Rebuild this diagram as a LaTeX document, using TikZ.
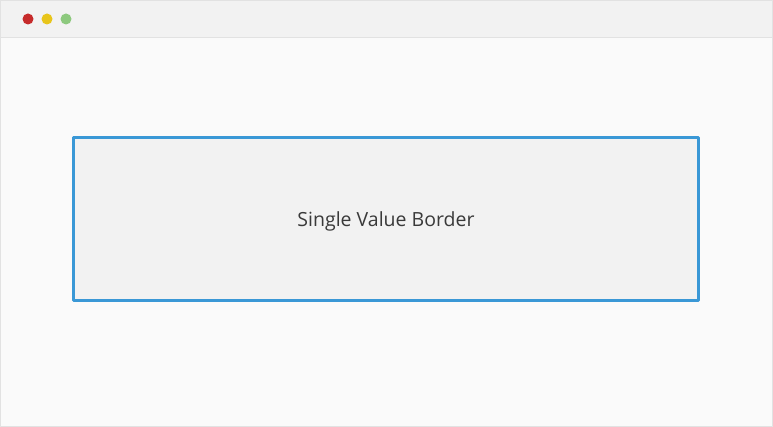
\documentclass[tikz,border=0pt]{standalone}
\usepackage{fontspec}
\setmainfont{Open Sans}
\definecolor{barbg}{HTML}{F2F2F2}
\definecolor{pagebg}{HTML}{FAFAFA}
\definecolor{edge}{HTML}{E2E2E2}
\definecolor{boxblue}{HTML}{3A98D6}
\definecolor{boxfill}{HTML}{F2F2F2}
\definecolor{txt}{HTML}{3A3A3A}
\definecolor{dotred}{HTML}{C62B2B}
\definecolor{dotyellow}{HTML}{E8C51B}
\definecolor{dotgreen}{HTML}{8DC97E}
\begin{document}
\begin{tikzpicture}[x=1pt,y=-1pt,line join = round]
	\def\W{773} \def\H{427} \def\bar{37}
	\useasboundingbox (0,0) rectangle (\W,\H);
	\fill[pagebg] (0,0) rectangle (\W,\H);
	\fill[barbg] (0,0) rectangle (\W,\bar);
	\draw[edge] (0,\bar)--(\W,\bar);
	\draw[edge,line width=1pt] (0.5,0.5) rectangle (\W-0.5,\H-0.5);
	\fill[dotred] (28,19) circle (5.5);
	\fill[dotyellow] (47,19) circle (5.5);
	\fill[dotgreen] (66,19) circle (5.5);
	\node[draw=boxblue,line width=3pt,fill=boxfill,minimum width=625pt,minimum height=163pt,inner sep=0pt,
		text depth=0pt,text=txt,font=\fontsize{19.5}{23}\selectfont] (box) at (386,219) {Single Value Border};
\end{tikzpicture}
\end{document}
